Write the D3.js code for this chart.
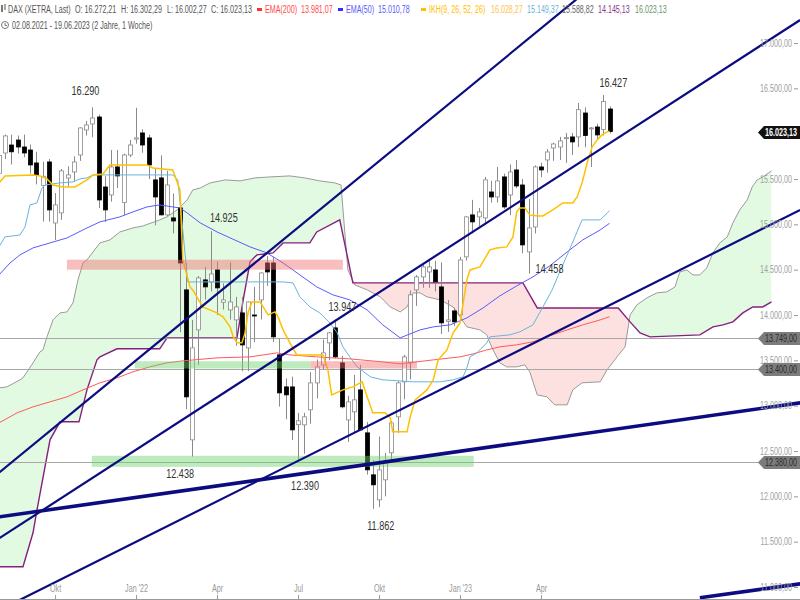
<!DOCTYPE html>
<html><head><meta charset="utf-8">
<script src="https://cdn.jsdelivr.net/npm/d3@7"></script>
<style>body{margin:0;background:#fff}svg{display:block;font-family:Arial,"Liberation Sans",sans-serif}</style>
</head><body><svg id="c" width="800" height="600"></svg>
<script>
// ---------- DATA (weekly candles, index 0 = week of 02.08.2021) ----------
const opens = [15560,15787,15875,15930,15853,15820,15677,15430,15688,15015,
15126,15511,15578,15765,16041,16107,16184,15412,15324,15633,
15240,15765,15940,16008,15953,15490,15512,15104,15071,15181,
14277,12623,13836,14387,14365,14497,14140,14056,13946,14023,
13637,14000,14166,14574,14574,13560,13207,13207,12790,12788,
12954,13251,13450,13692,13858,13472,12843,12932,13174,12700,
12237,11961,12182,12480,12877,13262,13472,14277,14420,14475,
14497,14310,13930,14045,14001,14641,15104,15082,15071,15357,
15302,15523,15324,15600,15434,14696,14971,15633,15710,15842,
15853,15950,15964,15964,16228,16058,16074,16045,16272];
const highs = [15810,15990,15990,15980,15990,15880,15800,15690,15720,15346,
15610,15640,15750,16070,16140,16290,16210,15530,15820,15820,
15780,15930,16285,16050,15990,15620,15760,15590,15340,15220,
14574,13946,14430,14530,14925,14590,14350,14580,14200,14200,
14150,14310,14470,14650,14640,13740,13300,13320,12920,12920,
13370,13510,13730,13810,13947,13550,13110,13340,13450,12820,
12400,12660,12480,12830,13270,13560,14270,14440,14560,14620,
14600,14580,14166,14080,14640,15090,15270,15180,15523,15480,
15633,15560,15660,15710,15500,15280,15650,15680,15830,15900,
15964,16008,16008,16338,16290,16074,16110,16427,16302];
const lows = [15500,15720,15660,15780,15740,15560,15440,15030,15030,14828,
15050,15420,15470,15700,15980,15960,15180,15026,15250,15400,
15104,15740,15890,15790,15500,14990,15100,15090,14900,13810,
12960,12438,13450,14170,14260,14000,14060,13950,13660,13380,
13380,13700,13950,14320,13700,12990,12850,12620,12390,12470,
12800,13080,13400,13500,13520,12970,12600,12700,12730,12240,
11862,11880,12000,12400,12700,13070,13290,14100,14300,14300,
14260,13790,13814,13880,13990,14600,14900,14980,15000,15240,
15240,15170,15100,15400,14680,14458,14900,15520,15570,15700,
15710,15677,15765,15853,15850,15633,15940,15980,16002];
const closes = [15760,15975,15800,15853,15787,15655,15545,15530,15159,15214,
15589,15545,15688,16063,16096,16173,15269,15159,15633,15534,
15765,15875,15953,15875,15655,15302,15104,15434,15037,14574,
13097,13637,14409,14310,14453,14299,14166,14144,14089,13670,
14144,13990,14464,14475,13759,13141,13119,12733,12833,12877,
13251,13428,13582,13803,13538,12987,13042,13064,12733,12292,
12127,12292,12369,12810,13251,13538,14222,14420,14530,14530,
14365,13913,13946,13924,14607,15082,15027,15137,15490,15302,
15479,15192,15578,15423,14773,14960,15633,15600,15798,15886,
15920,15956,15909,16265,15980,16063,15986,16355,16023];

// indicator lines: [weekIndex, value]
const tenkan = [[0,15457],[0.96,15534],[5.46,15545],[6.58,15534],[7.7,15501],[8.67,15434],[10.27,15412],[12.2,15412],[14.12,15490],[15.09,15545],[16.69,15556],[17.8,15655],[23.75,15655],[24.7,15622],[27.9,15600],[29.05,15379],[29.5,14608],[30.66,14310],[31.1,14277],[32.7,14089],[35,14023],[35.95,13979],[37.1,13869],[37.6,13759],[38.2,13693],[39,13693],[39.5,13803],[40,14034],[40.6,14144],[41.9,14144],[43.2,14001],[44.3,14034],[44.8,13979],[45.6,13836],[46.7,13693],[47.8,13560],[52,13560],[52.8,13395],[53.4,13119],[55.2,13174],[56.8,13207],[58.3,13263],[59.1,13097],[60,12921],[61.96,12921],[62.8,12866],[63.2,12711],[65.5,12711],[66,12877],[66.8,13064],[68.7,13174],[69.7,13285],[70.5,13505],[71.9,13615],[72.9,13803],[74,13913],[75.1,14387],[75.6,14497],[77.2,14530],[78.8,14718],[79.9,14740],[81.5,14751],[82.5,14861],[83.1,15137],[83.6,15181],[84.4,15181],[85.2,15104],[86.4,15093],[87.3,15093],[88.9,15159],[90.5,15236],[92.1,15236],[92.8,15302],[93.6,15457],[94.4,15677],[95.2,15853],[96,15931],[96.8,15986],[97.6,16019],[98,16028]];
const kijun = [[0,14751],[0.96,14861],[3.37,14883],[4.17,14971],[4.98,15214],[6.1,15236],[6.9,15401],[7.38,15434],[9.79,15457],[11.88,15468],[13,15501],[14.12,15512],[15.09,15545],[27.9,15545],[28.7,15490],[29.5,14938],[30.3,14365],[45.6,14365],[47.2,14354],[48.3,14200],[49.9,14089],[51.5,14023],[53.1,13913],[54.3,13803],[55.2,13649],[56.3,13538],[57.5,13428],[59.6,13318],[61.6,13285],[66.5,13263],[70.8,13263],[72.9,13285],[74.5,13318],[75.1,13417],[75.6,13538],[76.7,13582],[78.3,13693],[78.8,13759],[82,13781],[83.6,13814],[85.7,13891],[87.3,14089],[88.8,14277],[90,14475],[91.7,14740],[93.6,15049],[96.5,15049],[98,15149]];
const ema50 = [[0,14442],[1.77,14574],[3.37,14663],[5.46,14740],[8.19,14795],[10.91,14850],[14.12,14960],[16.2,15027],[19.4,15082],[21.5,15137],[23.75,15192],[25.8,15214],[27.9,15192],[29.05,15181],[30.2,15126],[32.3,15016],[35,14916],[40.3,14751],[43,14685],[45.6,14574],[48.3,14442],[51,14310],[53.6,14222],[56.3,14167],[59.1,14056],[61.6,13891],[64.4,13748],[67.6,13836],[69.7,13869],[72.4,13891],[75.1,13968],[77.7,14078],[80.4,14211],[83.1,14321],[85.7,14420],[88.4,14541],[91.2,14696],[93.7,14828],[96.5,14938],[98,15011]];
const ema200 = [[0,12810],[2.9,12921],[5.46,12987],[8.19,13042],[10.91,13097],[13.48,13174],[16.2,13252],[18.94,13307],[21.5,13373],[24.2,13428],[26.97,13472],[29.5,13494],[35,13527],[40.3,13538],[44.6,13582],[46.7,13560],[51,13538],[56.3,13516],[61.6,13483],[64.4,13461],[69.7,13505],[74,13538],[76.1,13571],[78.3,13615],[80.4,13649],[83.1,13671],[85.7,13704],[88.4,13770],[91.2,13836],[93.7,13891],[96.5,13946],[98,13981]];
const spanA = [[0,13196],[1.28,13207],[3.37,13285],[3.85,13307],[5.46,13472],[6.58,13593],[7.06,13615],[7.7,13759],[8.67,13946],[9.79,14023],[10.91,14034],[11.88,14134],[12.68,14387],[13.48,14574],[14.12,14608],[16.2,14795],[17.8,14828],[19.4,14916],[21.5,14960],[23.1,14982],[25.8,15049],[26.97,15082],[28.6,15159],[30.2,15269],[31.1,15379],[32.3,15401],[33.9,15457],[36.3,15490],[38.7,15479],[41.1,15512],[43.5,15523],[46.7,15534],[49.1,15512],[51.5,15479],[53.9,15457],[54.9,15434],[56,14497],[57.1,14332],[59.1,14277],[61.2,14200],[62.8,14089],[64.4,14034],[65.5,14089],[66.5,14244],[67.6,14244],[68.7,14200],[70.8,14167],[72.9,14089],[74,13979],[75.1,13869],[77.2,13836],[78.3,13781],[78.8,13693],[79.3,13615],[80.4,13472],[81.5,13428],[83.1,13428],[84.4,13450],[85.2,13373],[86.4,13119],[87.96,13097],[89.2,13009],[91.2,13009],[92.1,13174],[93.6,13252],[96.5,13263],[97.6,13395],[99.2,13538],[100.5,13649],[101.3,14001],[102.4,14112],[104,14189],[105.6,14244],[107.2,14255],[108.5,14310],[109.3,14475],[110.4,14497],[111.4,14442],[112.5,14442],[113.6,14519],[114.6,14685],[115.7,14795],[116.9,14861],[117.8,15016],[118.9,15159],[120.1,15269],[120.9,15412],[121.7,15490],[122.6,15523],[124,15589]];
const spanB = [[0,11223],[3.85,11223],[5.46,11598],[6.1,11851],[8.19,12623],[9.79,12822],[12.84,12822],[14.12,13174],[15.73,13505],[16.2,13538],[18.94,13627],[25.8,13627],[26.97,13748],[38.2,13748],[39.2,14167],[40.3,14586],[41.4,14663],[44,14685],[45.6,14795],[49.9,14795],[51,14916],[54.7,15049],[56.8,14354],[84.1,14354],[86.4,14078],[99.4,14078],[101.3,13924],[102.9,13803],[104.5,13759],[112.5,13781],[114.6,13869],[116.2,13891],[117.8,13924],[119.4,14023],[121,14089],[122.6,14089],[124,14145]];

// trend lines (start / end as [weekIndex, value])
const trendFrom = [[0,12261],[0,11536],[0,11773],[0,10743],[112.5,10881]];
const trendTo   = [[124,19245],[128.6,17254],[128.6,13031],[128.6,15159],[128.6,11035]];

// support / resistance zones
const zoneFrom = [10.9, 21.8, 50.0, 14.9];
const zoneTo   = [55.2, 50.0, 67.1, 76.2];
const zoneLow  = [14500, 13410, 13410, 12325];
const zoneHigh = [14610, 13490, 13490, 12447];
const zoneKind = ["res","sup","res","sup"];

// horizontal levels
const hLevels = [13749, 13400, 12380];
const lastPrice = 16023.13;

// annotations (week index, value)
const annIdx = [15, 34, 31, 48, 54, 60, 85, 97];
const annVal = [16290, 14925, 12438, 12390, 13947, 11862, 14458, 16427];

// axes
const xTickIdx = [9, 22, 35, 48, 61, 74, 87];
const xTickLabels = ["Okt", "Jan '22", "Apr", "Jul", "Okt", "Jan '23", "Apr"];
const yTicks = [11000,11500,12000,12500,13000,13500,14000,14500,15000,15500,16500,17000];

// ---------- DRAW ----------
const W = 800, H = 600;
const svg = d3.select("#c");
const x = d3.scaleLinear().domain([0, 124]).range([-1, 771.5]);
const y = d3.scaleLinear().domain([11000, 17000]).range([587, 43]);
const loc = d3.formatLocale({decimal: ",", thousands: ".", grouping: [3], currency: ["", ""]});
const fmt2 = loc.format(",.2f"), fmt0 = loc.format(",.0f");

const defs = svg.append("defs");
defs.append("clipPath").attr("id", "plot").append("rect").attr("width", W).attr("height", H);
const g = svg.append("g").attr("clip-path", "url(#plot)");

const lineGen = d3.line().x(d => x(d[0])).y(d => y(d[1]));
const aboveArea = d3.area().x(d => x(d[0])).y0(-10).y1(d => y(d[1]));
const belowArea = d3.area().x(d => x(d[0])).y0(H + 10).y1(d => y(d[1]));

// cloud
defs.append("clipPath").attr("id", "abB").append("path").attr("d", aboveArea(spanB));
defs.append("clipPath").attr("id", "abA").append("path").attr("d", aboveArea(spanA));
g.append("path").attr("d", belowArea(spanA)).attr("fill", "#e2fae2").attr("clip-path", "url(#abB)");
g.append("path").attr("d", belowArea(spanB)).attr("fill", "#fde1e1").attr("clip-path", "url(#abA)");
g.append("path").attr("d", lineGen(spanA)).attr("fill", "none").attr("stroke", "#9a9a9a").attr("stroke-width", 1);
g.append("path").attr("d", lineGen(spanB)).attr("fill", "none").attr("stroke", "#86207f").attr("stroke-width", 1.4);

// horizontal levels
g.selectAll(".hl").data(hLevels).join("line")
  .attr("x1", 0).attr("x2", 760).attr("y1", d => Math.round(y(d)) + 0.5).attr("y2", d => Math.round(y(d)) + 0.5)
  .attr("stroke", "#a8a8a8").attr("stroke-width", 1);

// candles
const idx = d3.range(opens.length);
const cg = g.append("g");
cg.selectAll(".wick").data(idx).join("line")
  .attr("x1", i => Math.round(x(i)) + 0.5).attr("x2", i => Math.round(x(i)) + 0.5)
  .attr("y1", i => y(highs[i])).attr("y2", i => y(lows[i]))
  .attr("stroke", "#8a8a8a").attr("stroke-width", 1);
cg.selectAll(".body").data(idx).join("rect")
  .attr("x", i => Math.round(x(i)) - 1.5).attr("width", 4)
  .attr("y", i => y(Math.max(opens[i], closes[i])))
  .attr("height", i => Math.max(1, Math.abs(y(opens[i]) - y(closes[i]))))
  .attr("fill", i => closes[i] >= opens[i] ? "#fff" : "#000")
  .attr("stroke", i => closes[i] >= opens[i] ? "#8a8a8a" : "#000").attr("stroke-width", 0.8);

// indicator lines
const lines = [[ema200, "#ff5a5a", 1], [ema50, "#5a5aff", 1], [kijun, "#6ab4dc", 1], [tenkan, "#ffc000", 1.5]];
lines.forEach(([d, c, w]) => g.append("path").attr("d", lineGen(d)).attr("fill", "none").attr("stroke", c).attr("stroke-width", w));

// zones
g.selectAll(".zone").data(d3.range(zoneFrom.length)).join("rect")
  .attr("x", k => x(zoneFrom[k])).attr("width", k => x(zoneTo[k]) - x(zoneFrom[k]))
  .attr("y", k => y(zoneHigh[k])).attr("height", k => y(zoneLow[k]) - y(zoneHigh[k]))
  .attr("fill", k => zoneKind[k] === "res" ? "rgb(240,110,110)" : "rgb(110,210,110)")
  .attr("fill-opacity", 0.45);

// trend lines
const tw = [2.2, 2.2, 3.6, 2.2, 3.6];
g.selectAll(".trend").data(d3.range(trendFrom.length)).join("line")
  .attr("x1", k => x(trendFrom[k][0])).attr("y1", k => y(trendFrom[k][1]))
  .attr("x2", k => x(trendTo[k][0])).attr("y2", k => y(trendTo[k][1]))
  .attr("stroke", "#0c0c80").attr("stroke-width", k => tw[k]);

// helper for narrow text
function txt(parent, s, px, py, size, sx, color, anchor, weight) {
  return parent.append("text").attr("transform", `translate(${px},${py}) scale(${sx},1)`)
    .attr("font-size", size).attr("fill", color).attr("text-anchor", anchor || "start")
    .attr("font-weight", weight || "normal").text(s);
}

// annotations
const annOff = [[-7,-17],[13,-14],[-12,17],[7,25],[7,-13],[8,17],[21,-5],[10,-12]];
annIdx.forEach((i, k) => {
  txt(svg, fmt0(annVal[k]), x(i) + annOff[k][0], y(annVal[k]) + annOff[k][1] + 4.5, 13, 0.7, "#333", "middle");
});

// right axis
const ya = svg.append("g").attr("transform", "translate(798,0)")
  .call(d3.axisLeft(y).tickValues(yTicks).tickSize(4).tickPadding(2).tickFormat(fmt2));
ya.select(".domain").remove();
ya.selectAll(".tick line").attr("stroke", "#999");
ya.selectAll(".tick text").attr("fill", "#a0a0a0").attr("font-size", 10)
  .attr("transform", "scale(0.72,1)")
  .attr("x", -6 / 0.72);

// bottom axis
const xa = svg.append("g").attr("transform", "translate(0,599)")
  .call(d3.axisTop(x).tickValues(xTickIdx).tickSize(4).tickPadding(3).tickFormat((d, k) => xTickLabels[k]));
xa.select(".domain").attr("stroke", "#999").attr("d", "M0,0.5H800");
xa.selectAll(".tick line").attr("stroke", "#999");
xa.selectAll(".tick text").attr("fill", "#999").attr("font-size", 10)
  .attr("transform", "scale(0.72,1)");

// level boxes
function box(v, fill, tcol, weight) {
  const cy = Math.round(y(v)) + 0.5;
  svg.append("path").attr("d", `M758,${cy}L764,${cy - 6.5}H800V${cy + 6.5}H764Z`).attr("fill", fill);
  txt(svg, fmt2(v), 797, cy + 3.5, 10, 0.72, tcol, "end", weight);
}
hLevels.forEach(v => box(v, "#7c7c7c", "#2a2a2a", "normal"));
box(lastPrice, "#111", "#fff", "bold");

// header
const hd = svg.append("g");
const sx = 0.65, fs = 11;
txt(hd, "DAX (XETRA, Last)", 8, 13, fs, sx, "#555");
txt(hd, "O: 16.272,21", 75, 13, fs, sx, "#555");
txt(hd, "H: 16.302,29", 121, 13, fs, sx, "#555");
txt(hd, "L: 16.002,27", 167, 13, fs, sx, "#555");
txt(hd, "C: 16.023,13", 211, 13, fs, sx, "#555");
hd.append("rect").attr("x", 257).attr("y", 8).attr("width", 5).attr("height", 3).attr("fill", "#ff3030");
txt(hd, "EMA(200)", 265, 13, fs, sx, "#ff4a4a");
txt(hd, "13.981,07", 301, 13, fs, sx, "#ff4a4a");
hd.append("rect").attr("x", 338).attr("y", 8).attr("width", 5).attr("height", 3).attr("fill", "#3030ff");
txt(hd, "EMA(50)", 346, 13, fs, sx, "#5a5aff");
txt(hd, "15.010,78", 378, 13, fs, sx, "#5a5aff");
hd.append("rect").attr("x", 421).attr("y", 8).attr("width", 5).attr("height", 3).attr("fill", "#ffc000");
txt(hd, "IKH(9, 26, 52, 26)", 429, 13, fs, sx, "#ffc000");
txt(hd, "16.028,27", 491, 13, fs, sx, "#ffc34a");
txt(hd, "15.149,37", 527, 13, fs, sx, "#6ab4dc");
txt(hd, "15.588,82", 562, 13, fs, sx, "#666");
txt(hd, "14.145,13", 598, 13, fs, sx, "#8a3a8a");
txt(hd, "16.023,13", 635, 13, fs, sx, "#6a946a");
// icons
hd.append("rect").attr("x", 1).attr("y", 5).attr("width", 2).attr("height", 7).attr("fill", "#777");
hd.append("rect").attr("x", 4).attr("y", 4).attr("width", 2).attr("height", 6).attr("fill", "#aaa");
hd.append("circle").attr("cx", 5).attr("cy", 25).attr("r", 3.5).attr("fill", "none").attr("stroke", "#777");
hd.append("path").attr("d", "M5,23V25.5H7").attr("fill", "none").attr("stroke", "#777");
txt(hd, "02.08.2021 - 19.06.2023  (2 Jahre, 1 Woche)", 12, 29, fs, sx, "#555");
</script></body></html>
